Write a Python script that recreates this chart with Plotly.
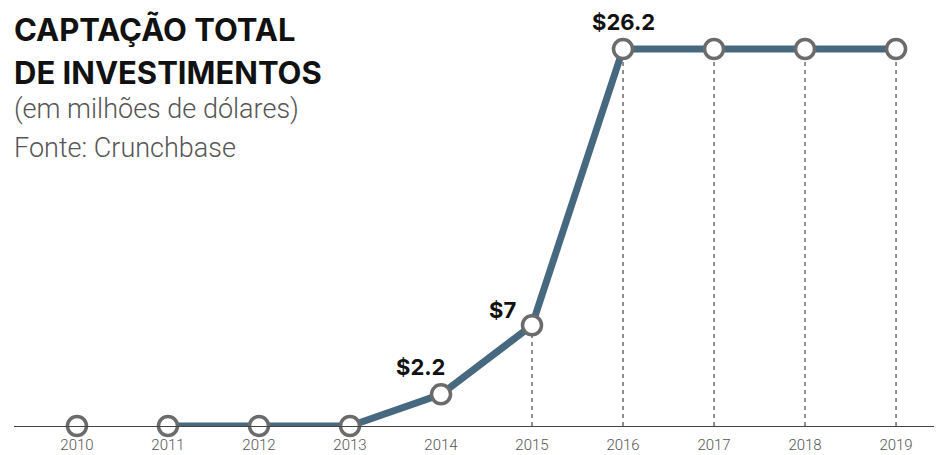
import plotly.graph_objects as go

# Captação total de investimentos (US$ milhões), Crunchbase
years = [2010, 2011, 2012, 2013, 2014, 2015, 2016, 2017, 2018, 2019]
totals = [0, 0, 0, 0, 2.2, 7, 26.2, 26.2, 26.2, 26.2]
# 2010 appears only as a point, the line begins in 2011
line_start = 1
labelled = {2014: "$2.2", 2015: "$7", 2016: "$26.2"}
dropline_years = [2015, 2016, 2017, 2018, 2019]

LINE = "#46697f"
RING = "#6b6b6b"
PLOT_H = 418  # plot area height in px, used to place the heading block

fig = go.Figure()

# dashed drop lines from points to the baseline
dx, dy = [], []
for yr, v in zip(years, totals):
    if yr in dropline_years:
        dx += [yr, yr, None]
        dy += [0, v, None]
fig.add_trace(go.Scatter(
    x=dx, y=dy, mode="lines",
    line=dict(color="#222222", width=1, dash="4px,4px"),
    hoverinfo="skip", cliponaxis=False,
))

fig.add_trace(go.Scatter(
    x=years[line_start:], y=totals[line_start:], mode="lines",
    line=dict(color=LINE, width=7),
    hoverinfo="skip", cliponaxis=False,
))

fig.add_trace(go.Scatter(
    x=years, y=totals, mode="markers",
    marker=dict(size=19, color="white", line=dict(color=RING, width=3.5)),
    cliponaxis=False,
    hovertemplate="%{x}: $%{y}<extra></extra>",
))

# value labels (pixel offsets from their point)
label_pos = {2014: (-21, 27), 2015: (-30, 15), 2016: (0, 27)}
for yr, txt in labelled.items():
    v = totals[years.index(yr)]
    ox, oy = label_pos[yr]
    fig.add_annotation(
        x=yr, y=v, text=f"<b>{txt}</b>", showarrow=False,
        xshift=ox, yshift=oy,
        font=dict(family="Inter", size=22, color="#111111", weight=900),
    )

# title block
head = dict(xref="paper", yref="paper", showarrow=False, xanchor="left",
            yanchor="middle", align="left", x=-0.002)
bold = dict(family="Inter", size=31, color="#111111", weight=900)
light = dict(family="Roboto", size=27, color="#555555", weight=300)
fig.add_annotation(y=1 - 22 / PLOT_H, text="<b>CAPTAÇÃO TOTAL</b>", font=bold, **head)
fig.add_annotation(y=1 - 64 / PLOT_H, text="<b>DE INVESTIMENTOS</b>", font=bold, **head)
fig.add_annotation(y=1 - 101 / PLOT_H, text="(em milhões de dólares)", font=light, **head)
fig.add_annotation(y=1 - 140 / PLOT_H, text="Fonte: Crunchbase", font=light, **head)

fig.update_xaxes(
    range=[2009.308, 2019.505], tickvals=years, ticktext=[str(y) for y in years],
    showgrid=False, zeroline=False, showline=True, linecolor="#444444", linewidth=1,
    ticks="", ticklabelstandoff=5,
    tickfont=dict(family="Roboto", size=15, color="#555555", weight=300),
)
fig.update_yaxes(range=[0, 29.05], visible=False, showgrid=False, zeroline=False)

fig.update_layout(
    width=942, height=446,
    margin=dict(l=6, r=8, t=0, b=446 - PLOT_H),
    paper_bgcolor="white", plot_bgcolor="white",
    showlegend=False,
)

fig.write_html("out.html")
